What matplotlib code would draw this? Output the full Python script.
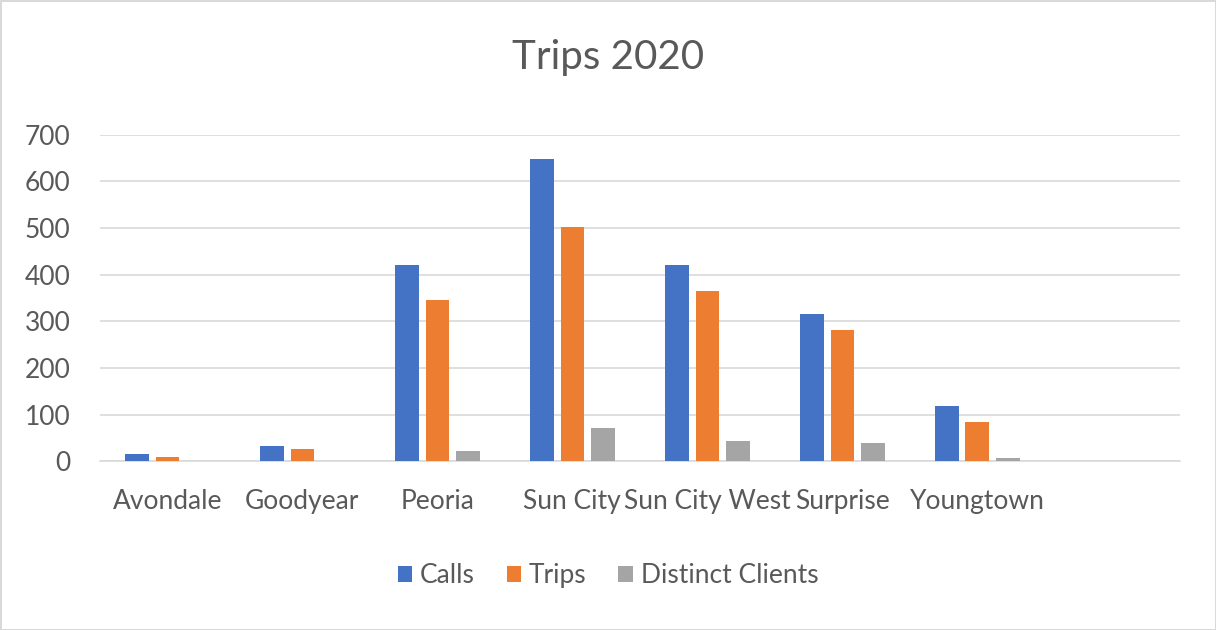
import numpy as np
import matplotlib.pyplot as plt

cities = ['Avondale', 'Goodyear', 'Peoria', 'Sun City', 'Sun City West', 'Surprise', 'Youngtown']
calls = [15, 32, 421, 648, 421, 316, 118]
trips = [8, 26, 345, 502, 364, 282, 84]
clients = [0, 0, 21, 71, 43, 38, 6]

series = ['Calls', 'Trips', 'Distinct Clients']
colors = ['#4472C4', '#ED7D31', '#A5A5A5']
txt = '#595959'

plt.rcParams['font.family'] = ['Lato', 'DejaVu Sans']

fig = plt.figure(figsize=(12.16, 6.3), dpi=100)
fig.patch.set_edgecolor('#d9d9d9')
fig.patch.set_linewidth(2)
ax = fig.add_axes([0.0822, 0.268, 0.888, 0.518])

x = np.arange(len(cities))
w = 0.175
step = 0.226
for i, (vals, c) in enumerate(zip([calls, trips, clients], colors)):
    ax.bar(x + (i - 1) * step, vals, w, color=c, label=series[i], zorder=3)

ax.set_xlim(-0.5, 7.5)
ax.set_ylim(0, 700)
ax.set_yticks(range(0, 701, 100))
ax.set_xticks(x)
ax.set_xticklabels(cities)
ax.grid(axis='y', color='#d9d9d9', linewidth=1.2, zorder=0)
for s in ['top', 'right', 'left']:
    ax.spines[s].set_visible(False)
ax.spines['bottom'].set_color('#d9d9d9')
ax.spines['bottom'].set_linewidth(1.2)
ax.tick_params(axis='both', length=0, labelsize=19, labelcolor=txt)
ax.tick_params(axis='x', pad=20)
ax.tick_params(axis='y', pad=21)

fig.text(0.5, 0.908, 'Trips 2020', ha='center', va='center', fontsize=29, color=txt)
fig.legend(loc='center', bbox_to_anchor=(0.5, 0.086), ncol=3, frameon=False,
           fontsize=19, labelcolor=txt, handlelength=0.55, handleheight=0.55,
           handletextpad=0.3, columnspacing=1.2)

fig.savefig('out.png', dpi=100)
